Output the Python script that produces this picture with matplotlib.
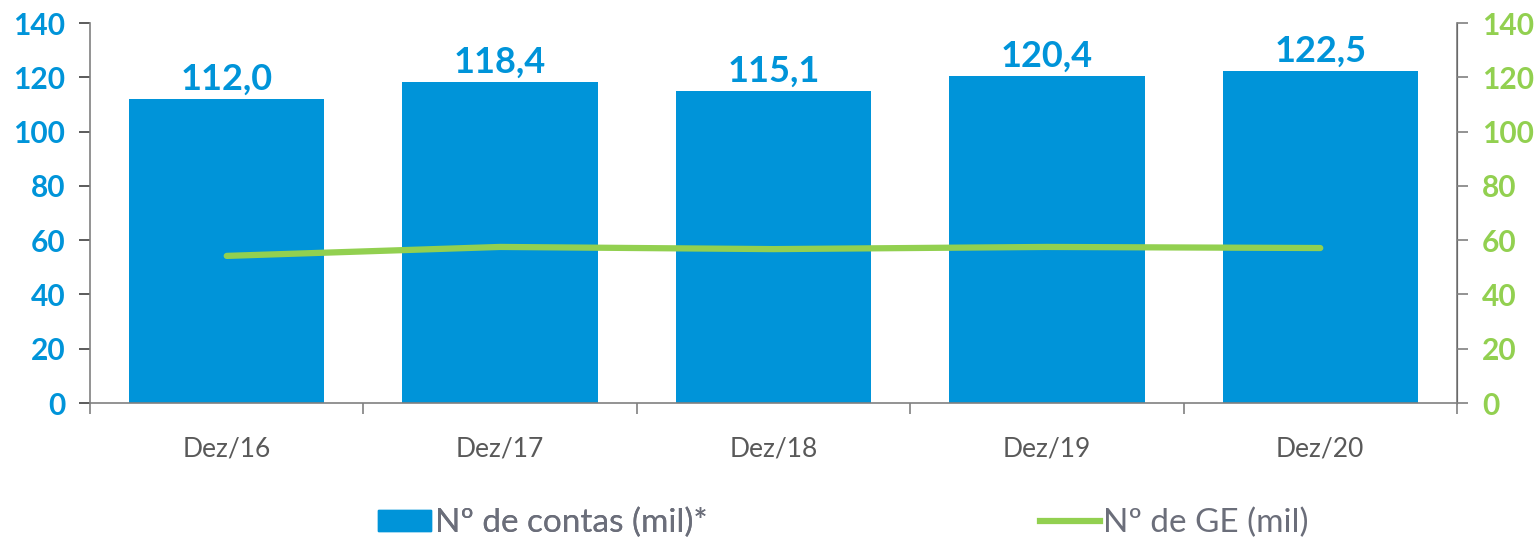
import numpy as np
import matplotlib.pyplot as plt
from matplotlib.lines import Line2D
from matplotlib.patches import Patch

categories = ['Dez/16', 'Dez/17', 'Dez/18', 'Dez/19', 'Dez/20']
contas = [112.0, 118.4, 115.1, 120.4, 122.5]
ge = [54.2, 57.5, 56.7, 57.5, 57.1]

blue = '#0094D9'
green = '#92D050'
gray = '#595959'
plt.rcParams['font.family'] = ['Lato', 'DejaVu Sans']

fig = plt.figure(figsize=(15.39, 5.39), dpi=100)
ax = fig.add_axes([0.0585, 0.2523, 0.8882, 0.705])
ax2 = ax.twinx()

x = np.arange(len(categories))
ax.bar(x, contas, width=0.715, color=blue, zorder=2)
for xi, v in zip(x, contas):
    ax.text(xi, v + 1.2, f'{v:.1f}'.replace('.', ','), ha='center', va='bottom',
            color=blue, fontsize=26, fontweight='bold')

ax2.plot(x, ge, color=green, lw=4.5, solid_capstyle='round', zorder=3)

ax.set_xlim(-0.5, 4.5)
ax.set_ylim(0, 140)
ax2.set_ylim(0, 140)
ax.set_yticks(range(0, 141, 20))
ax2.set_yticks(range(0, 141, 20))
ax.set_xticks(x)
ax.set_xticklabels(categories, fontsize=19, color=gray)
ax.set_xticks(np.arange(-0.5, 5, 1), minor=True)
ax.tick_params(axis='x', which='major', length=0, pad=24)
ax.tick_params(axis='x', which='minor', length=8, color='#808080', width=1.2)
ax.tick_params(axis='y', length=8, color='#404040', width=1.2, labelsize=21.5,
               labelcolor=blue, pad=10)
ax2.tick_params(axis='y', length=8, color='#808080', width=1.2, labelsize=21.5,
                labelcolor=green, pad=10)
for lab in ax.get_yticklabels() + ax2.get_yticklabels():
    lab.set_fontweight('bold')

for a in (ax, ax2):
    a.spines['top'].set_visible(False)
ax.spines['left'].set_color('#808080')
ax.spines['bottom'].set_color('#808080')
ax2.spines['right'].set_color('#808080')
ax2.spines['left'].set_visible(False)
ax2.spines['bottom'].set_visible(False)
for s in ('left', 'bottom'):
    ax.spines[s].set_linewidth(1.2)
ax2.spines['right'].set_linewidth(1.2)

leg1 = fig.legend([Patch(color=blue)], ['Nº de contas (mil)*'], loc='center left',
                  bbox_to_anchor=(378 / 1539, 16 / 539), frameon=False, fontsize=24,
                  labelcolor='#6B6E7A', handlelength=1.6, handleheight=0.6,
                  handletextpad=0.1, borderpad=0, borderaxespad=0)
fig.add_artist(leg1)
fig.legend([Line2D([], [], color=green, lw=4.5)], ['Nº de GE (mil)'], loc='center left',
           bbox_to_anchor=(1040 / 1539, 16 / 539), frameon=False, fontsize=24,
           labelcolor='#6B6E7A', handlelength=1.8, handletextpad=0.1,
           borderpad=0, borderaxespad=0)

fig.savefig('out.png', dpi=100)
